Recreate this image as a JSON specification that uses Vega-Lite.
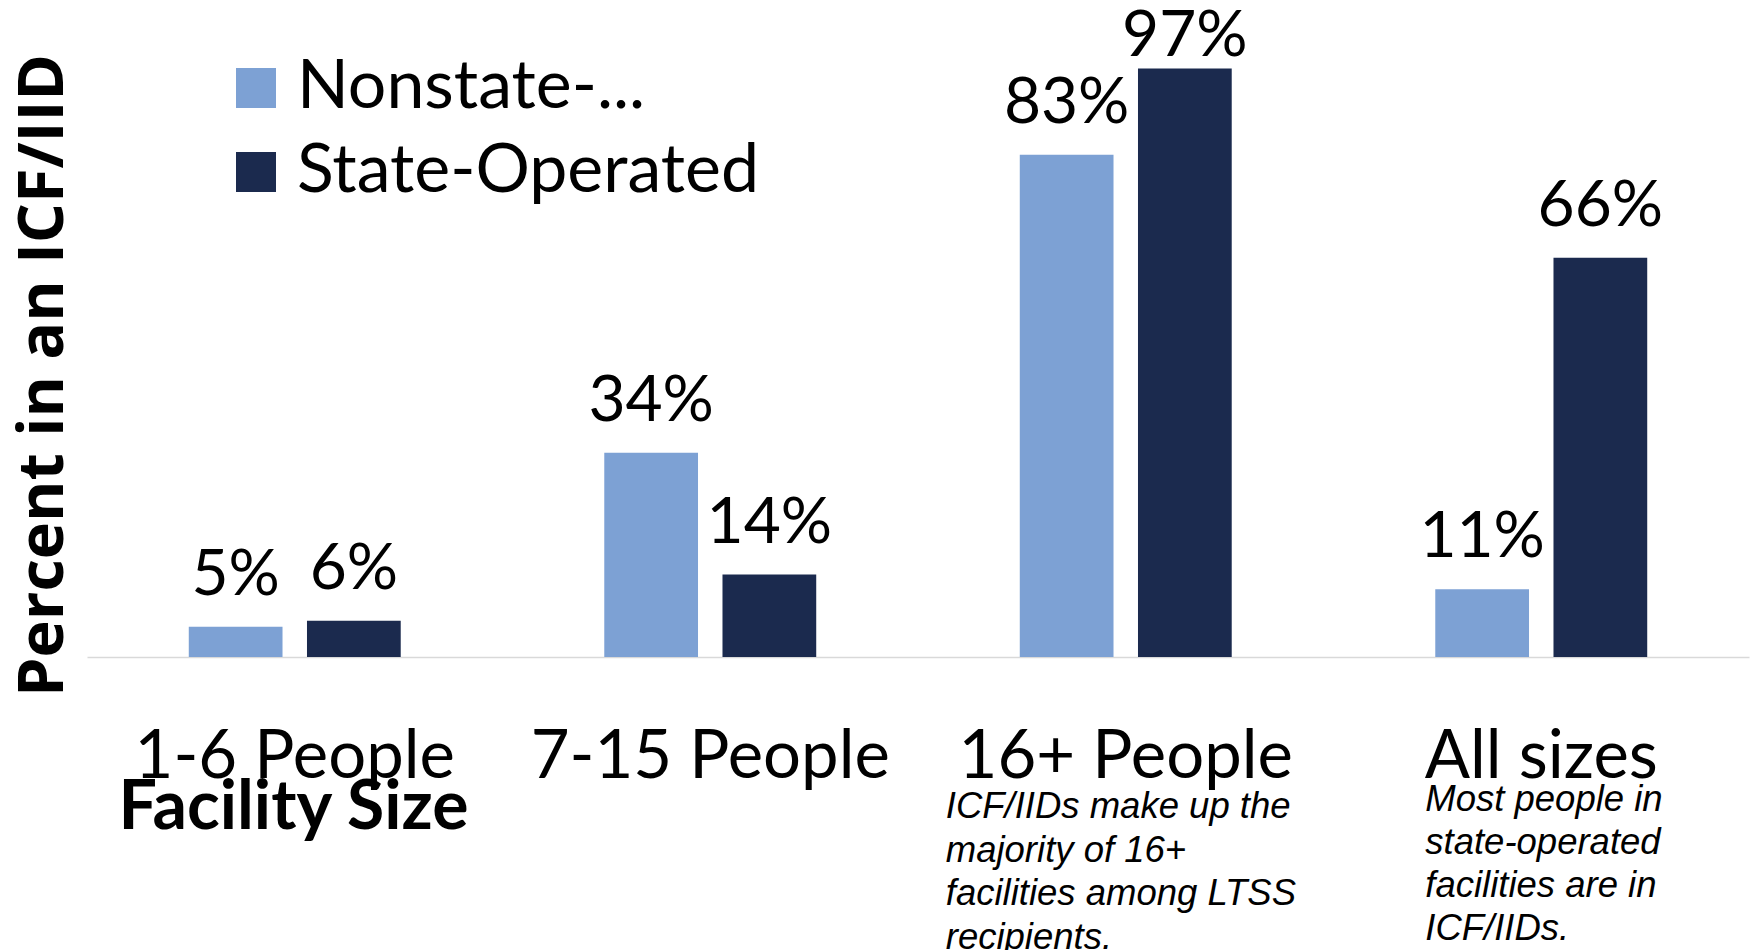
{
  "$schema": "https://vega.github.io/schema/vega-lite/v6.json",
  "width": 1662,
  "height": 606,
  "autosize": {"type": "none"},
  "padding": {"left": 87, "top": 51, "right": 1, "bottom": 293},
  "background": "white",
  "config": {"view": {"stroke": null}},
  "data": {
    "values": [
      {"category": "1-6 People", "series": "Nonstate-Operated", "value": 0.05},
      {"category": "1-6 People", "series": "State-Operated", "value": 0.06},
      {"category": "7-15 People", "series": "Nonstate-Operated", "value": 0.337},
      {"category": "7-15 People", "series": "State-Operated", "value": 0.136},
      {"category": "16+ People", "series": "Nonstate-Operated", "value": 0.829},
      {"category": "16+ People", "series": "State-Operated", "value": 0.971},
      {"category": "All sizes", "series": "Nonstate-Operated", "value": 0.112},
      {"category": "All sizes", "series": "State-Operated", "value": 0.659}
    ]
  },
  "encoding": {
    "x": {
      "field": "category",
      "type": "nominal",
      "scale": {"domain": ["1-6 People", "7-15 People", "16+ People", "All sizes"], "paddingInner": 0, "paddingOuter": 0},
      "axis": {
        "title": "Facility Size",
        "titleFont": "Lato",
        "titleFontWeight": "bold",
        "titleFontSize": 68,
        "titleColor": "black",
        "titleX": 206,
        "titleY": 171,
        "titleAlign": "center",
        "titleBaseline": "alphabetic",
        "labelAngle": 0,
        "labelFont": "Lato",
        "labelFontSize": 67,
        "labelColor": "black",
        "labelBaseline": "alphabetic",
        "labelPadding": 120,
        "labelLimit": 0,
        "ticks": false,
        "tickSize": 0,
        "domainColor": "#D9D9D9",
        "domainWidth": 1.5,
        "grid": false
      }
    }
  },
  "layer": [
    {
      "mark": {"type": "bar"},
      "encoding": {
        "xOffset": {
          "field": "series",
          "type": "nominal",
          "scale": {"domain": ["Nonstate-Operated", "State-Operated"], "paddingInner": 0.207, "paddingOuter": 0.861}
        },
        "y": {
          "field": "value",
          "type": "quantitative",
          "scale": {"domain": [0, 1]},
          "axis": {
            "title": "Percent in an ICF/IID",
            "titleFont": "Open Sans",
            "titleFontWeight": "bold",
            "titleFontSize": 63,
            "titleColor": "black",
            "titleAngle": -90,
            "titleX": -25,
            "titleY": 324,
            "titleAlign": "center",
            "titleBaseline": "alphabetic",
            "labels": false,
            "ticks": false,
            "domain": false,
            "grid": false
          }
        },
        "color": {
          "field": "series",
          "type": "nominal",
          "scale": {"domain": ["Nonstate-Operated", "State-Operated"], "range": ["#7DA1D4", "#1B2A4E"]},
          "legend": {
            "title": null,
            "orient": "none",
            "legendX": 135,
            "legendY": 3,
            "padding": 0,
            "symbolType": "square",
            "symbolSize": 1600,
            "symbolStrokeWidth": 0,
            "labelFont": "Lato",
            "labelFontSize": 68,
            "labelColor": "black",
            "labelOffset": 7,
            "labelLimit": 0,
            "rowPadding": 16,
            "labelExpr": "datum.label == 'Nonstate-Operated' ? 'Nonstate-...' : datum.label"
          }
        }
      }
    },
    {
      "transform": [{"filter": "datum.value < 0.9"}],
      "mark": {"type": "text", "dy": -32, "baseline": "alphabetic", "font": "Lato", "fontSize": 64, "color": "black"},
      "encoding": {
        "xOffset": {"field": "series", "type": "nominal", "scale": {"domain": ["Nonstate-Operated", "State-Operated"], "paddingInner": 0.207, "paddingOuter": 0.861}},
        "y": {"field": "value", "type": "quantitative"},
        "text": {"field": "value", "type": "quantitative", "format": ".0%"}
      }
    },
    {
      "transform": [{"filter": "datum.value >= 0.9"}],
      "mark": {"type": "text", "dy": -13, "baseline": "alphabetic", "font": "Lato", "fontSize": 64, "color": "black"},
      "encoding": {
        "xOffset": {"field": "series", "type": "nominal", "scale": {"domain": ["Nonstate-Operated", "State-Operated"], "paddingInner": 0.207, "paddingOuter": 0.861}},
        "y": {"field": "value", "type": "quantitative"},
        "text": {"field": "value", "type": "quantitative", "format": ".0%"}
      }
    },
    {
      "data": {"values": [{"category": "16+ People", "note": "ICF/IIDs make up the\nmajority of 16+\nfacilities among LTSS\nrecipients."}]},
      "mark": {"type": "text", "align": "left", "baseline": "alphabetic", "dx": -180, "dy": 161, "font": "Liberation Sans", "fontStyle": "italic", "fontSize": 36.5, "lineHeight": 43.5, "lineBreak": "\n", "color": "black"},
      "encoding": {
        "y": {"datum": 0, "type": "quantitative"},
        "text": {"field": "note", "type": "nominal"}
      }
    },
    {
      "data": {"values": [{"category": "All sizes", "note": "Most people in\nstate-operated\nfacilities are in\nICF/IIDs."}]},
      "mark": {"type": "text", "align": "left", "baseline": "alphabetic", "dx": -116, "dy": 154, "font": "Liberation Sans", "fontStyle": "italic", "fontSize": 36.5, "lineHeight": 43, "lineBreak": "\n", "color": "black"},
      "encoding": {
        "y": {"datum": 0, "type": "quantitative"},
        "text": {"field": "note", "type": "nominal"}
      }
    }
  ]
}
